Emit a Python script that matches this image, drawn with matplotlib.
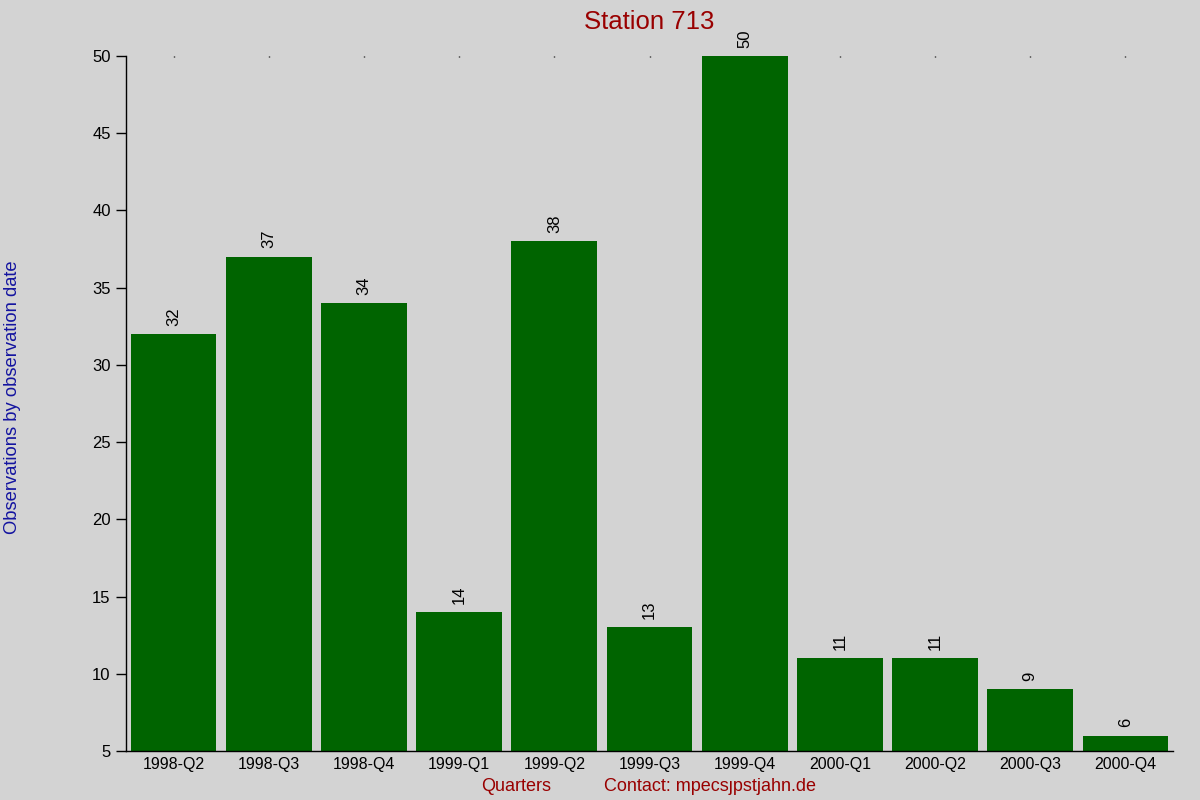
import matplotlib
matplotlib.use("Agg")
import matplotlib.pyplot as plt

quarters = ["1998-Q2", "1998-Q3", "1998-Q4", "1999-Q1", "1999-Q2", "1999-Q3",
            "1999-Q4", "2000-Q1", "2000-Q2", "2000-Q3", "2000-Q4"]
observations = [32, 37, 34, 14, 38, 13, 50, 11, 11, 9, 6]
y_ticks = [5, 10, 15, 20, 25, 30, 35, 40, 45, 50]

BG = "#d3d3d3"
BAR = "#006400"

plt.rcParams["font.family"] = ["Liberation Sans", "DejaVu Sans"]

fig = plt.figure(figsize=(12, 8), dpi=100, facecolor=BG)
ax = fig.add_axes([0.105, 0.06125, 0.8725, 0.86875])
ax.set_facecolor(BG)

x = list(range(len(quarters)))
ax.bar(x, observations, width=0.9, bottom=0, color=BAR, zorder=2)

# value labels, rotated, just above each bar
for xi, v in zip(x, observations):
    ax.annotate(str(v), (xi, v), xytext=(0, 6), textcoords="offset points",
                rotation=90, ha="center", va="bottom", fontsize=12, color="black")

ax.set_xlim(-0.5, len(quarters) - 0.5)
ax.set_ylim(5, 50)
ax.set_yticks(y_ticks)
ax.set_xticks(x)
ax.set_xticklabels(quarters, fontsize=11.5)
ax.tick_params(axis="y", direction="out", length=7, width=1, pad=4, labelsize=12)
ax.tick_params(axis="x", bottom=False, top=True, direction="in", length=1, width=1, pad=4)

for side in ("top", "right"):
    ax.spines[side].set_visible(False)
ax.spines["left"].set_linewidth(1)
ax.spines["bottom"].set_linewidth(1)

fig.text(0.541, 0.972, "Station 713", ha="center", va="center", fontsize=18.5, color="#990000")
fig.text(0.0105, 0.503, "Observations by observation date", rotation=90, ha="center",
         va="center", fontsize=13.2, color="#1414a0")
fig.text(0.43, 0.017, "Quarters", ha="center", va="center", fontsize=13, color="#990000")
fig.text(0.592, 0.017, "Contact: mpecs\u0237pstjahn.de", ha="center", va="center",
         fontsize=13, color="#990000")

fig.savefig("out.png", dpi=100, facecolor=BG)
